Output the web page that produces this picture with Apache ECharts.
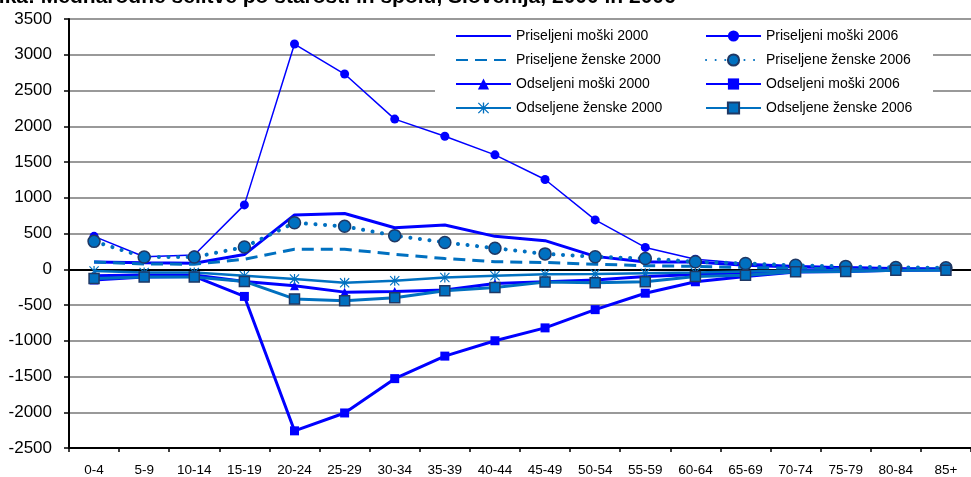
<!DOCTYPE html>
<html>
<head>
<meta charset="utf-8">
<script src="https://cdn.jsdelivr.net/npm/echarts@6/dist/echarts.min.js"></script>
<style>html,body{margin:0;padding:0;background:#fff;}#c{width:971px;height:477px;}</style>
</head>
<body>
<div id="c"></div>
<script>
var categories = ['0-4','5-9','10-14','15-19','20-24','25-29','30-34','35-39','40-44','45-49','50-54','55-59','60-64','65-69','70-74','75-79','80-84','85+'];
var yTicks = {min: -2500, max: 3500, interval: 500};

var pm2000 = [100, 90, 85, 205, 760, 780, 580, 620, 460, 400, 180, 100, 100, 55, 30, 20, 10, 5];
var pz2000 = [100, 75, 70, 140, 280, 280, 210, 150, 105, 95, 70, 50, 40, 25, 15, 10, 5, 3];
var om2000 = [-90, -80, -80, -170, -230, -320, -310, -290, -200, -175, -150, -100, -75, -50, -20, -15, -10, -5];
var oz2000 = [-25, -45, -45, -90, -135, -190, -160, -115, -90, -70, -65, -55, -45, -30, -20, -12, -8, -5];
var pm2006 = [460, 175, 200, 900, 3150, 2730, 2100, 1860, 1600, 1255, 690, 305, 140, 80, 50, 30, 15, 10];
var pz2006 = [390, 170, 170, 310, 650, 600, 470, 375, 295, 215, 175, 150, 105, 80, 55, 40, 25, 20];
var om2006 = [-150, -110, -100, -380, -2260, -2010, -1530, -1215, -1000, -820, -565, -335, -175, -100, -40, -30, -15, -10];
var oz2006 = [-130, -110, -110, -170, -415, -440, -400, -300, -255, -180, -190, -175, -100, -85, -35, -30, -15, -15];

var names = {
  pm2000: 'Priseljeni moški 2000', pm2006: 'Priseljeni moški 2006',
  pz2000: 'Priseljene ženske 2000', pz2006: 'Priseljene ženske 2006',
  om2000: 'Odseljeni moški 2000', om2006: 'Odseljeni moški 2006',
  oz2000: 'Odseljene ženske 2000', oz2006: 'Odseljene ženske 2006'
};

var FONT = 'Liberation Sans, Arial, sans-serif';
var BLUE = '#0000FF';
var MID = '#0070C0';
var DARK = '#1F3864';
var ASTER = 'path://M4.4,0 L5.6,0 L5.6,10 L4.4,10 Z M0,0.8 L0.8,0 L10,9.2 L9.2,10 Z M9.2,0 L10,0.8 L0.8,10 L0,9.2 Z';

var chart = echarts.init(document.getElementById('c'));
var legendText = {fontSize: 14, fontFamily: FONT, color: '#000'};

var option = {
  animation: false,
  backgroundColor: '#fff',
  title: {
    text: '{n|Slika: }{b|Mednarodne selitve po starosti in spolu, Slovenija, 2000 in 2006}',
    left: -21, top: -13, padding: 0,
    textStyle: {rich: {
      n: {fontSize: 21, fontFamily: FONT, color: '#000'},
      b: {fontSize: 21, fontFamily: FONT, fontWeight: 'bold', color: '#000'}
    }}
  },
  graphic: [{
    type: 'rect', left: 435, top: 21, z: 1, silent: true,
    shape: {width: 498, height: 103}, style: {fill: '#fff'}
  }],
  legend: [
    {left: 455, top: 29, orient: 'vertical', itemWidth: 55, itemHeight: 14, itemGap: 10, padding: 0,
     data: [{name: names.pm2000, itemStyle: {opacity: 0}}, {name: names.pz2000, itemStyle: {opacity: 0}}, names.om2000, names.oz2000],
     textStyle: legendText},
    {left: 705, top: 29, orient: 'vertical', itemWidth: 55, itemHeight: 14, itemGap: 10, padding: 0,
     data: [names.pm2006, names.pz2006, names.om2006, names.oz2006], textStyle: legendText}
  ],
  grid: {left: 69, right: -1, top: 19, bottom: 28},
  xAxis: [{
    type: 'category', data: categories, position: 'bottom',
    axisLine: {onZero: false, lineStyle: {color: '#000', width: 2}},
    axisTick: {show: true, interval: 0, length: 4, lineStyle: {color: '#000', width: 1.5}},
    axisLabel: {interval: 0, fontSize: 13.5, fontFamily: FONT, color: '#000', margin: 15},
    splitLine: {show: false}
  }, {
    type: 'category', data: categories, position: 'top',
    axisLine: {lineStyle: {color: '#000', width: 2}},
    axisTick: {show: false}, axisLabel: {show: false}, splitLine: {show: false}
  }],
  yAxis: {
    type: 'value', min: yTicks.min, max: yTicks.max, interval: yTicks.interval,
    axisLine: {show: true, lineStyle: {color: '#000', width: 2}},
    axisTick: {show: true, length: 5, lineStyle: {color: '#000', width: 1.5}},
    axisLabel: {fontSize: 17, fontFamily: FONT, color: '#000', margin: 17,
      formatter: function (v) { return String(v); }},
    splitLine: {show: true, lineStyle: {color: '#999', width: 2}}
  },
  series: [
    {name: names.pm2000, type: 'line', data: pm2000, symbol: 'none', color: BLUE,
     lineStyle: {color: BLUE, width: 3}},
    {name: names.pz2000, type: 'line', data: pz2000, symbol: 'none', color: MID,
     lineStyle: {color: MID, width: 3, type: [12, 7]}},
    {name: names.om2000, type: 'line', data: om2000, symbol: 'triangle', symbolSize: 9, color: BLUE,
     itemStyle: {color: BLUE}, lineStyle: {color: BLUE, width: 3}},
    {name: names.oz2000, type: 'line', data: oz2000, symbol: ASTER, symbolSize: 10, color: MID,
     itemStyle: {color: MID}, lineStyle: {color: MID, width: 2.5}},
    {name: names.pm2006, type: 'line', data: pm2006, symbol: 'circle', symbolSize: 9, color: BLUE,
     itemStyle: {color: BLUE}, lineStyle: {color: BLUE, width: 1.5}},
    {name: names.pz2006, type: 'line', data: pz2006, symbol: 'circle', symbolSize: 12, color: MID,
     itemStyle: {color: MID, borderColor: DARK, borderWidth: 1.5},
     lineStyle: {color: MID, width: 4, type: [0.1, 9.5], cap: 'round'}},
    {name: names.om2006, type: 'line', data: om2006, symbol: 'rect', symbolSize: 9, color: BLUE,
     itemStyle: {color: BLUE}, lineStyle: {color: BLUE, width: 3}},
    {name: names.oz2006, type: 'line', data: oz2006, symbol: 'rect', symbolSize: 10, color: MID,
     itemStyle: {color: MID, borderColor: DARK, borderWidth: 1.5}, lineStyle: {color: MID, width: 3}}
  ]
};
option.series.forEach(function (s) { s.emphasis = {disabled: true}; s.xAxisIndex = 0; });
chart.setOption(option);
</script>
</body>
</html>
